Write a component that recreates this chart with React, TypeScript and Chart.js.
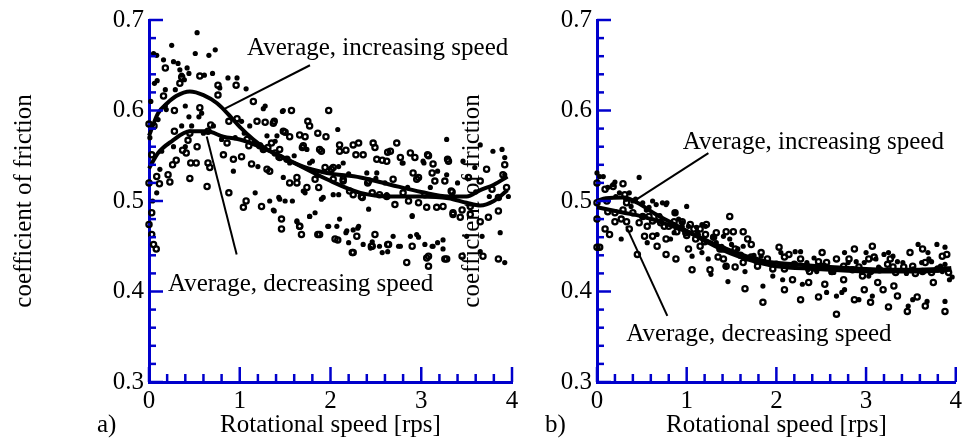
import React, { useEffect, useRef } from "react";
import { Chart, registerables } from "chart.js";

Chart.register(...registerables);

const FONT = "'Liberation Serif', 'Times New Roman', serif";
const AXIS_BLUE = "#0000cc";
const INK = "#000000";

// ---- text ----
const panelLabels = ["a)", "b)"];
const xTitle = "Rotational speed [rps]";
const yTitle = "coefficient of friction";
const incLabel = "Average, increasing speed";
const decLabel = "Average, decreasing speed";

// ---- axes ----
const xRange = [0, 4];
const yRange = [0.3, 0.7];
const xMajorStep = 1;
const xMinorStep = 0.2;
const yMajorStep = 0.1;
const yMinorStep = 0.02;

// ---- panel a) : measured points, increasing speed (dots) ----
const aIncreasing: [number, number][] = [
  [0.05,0.663],[0.06,0.63],[0.085,0.661],[0.09,0.633],[0.16,0.656],[0.18,0.623],[0.25,0.672],[0.27,0.654],
  [0.29,0.623],[0.32,0.652],[0.34,0.645],[0.36,0.639],[0.39,0.634],[0.42,0.647],[0.44,0.641],[0.51,0.663],
  [0.53,0.686],[0.55,0.593],[0.61,0.639],[0.66,0.661],[0.73,0.667],[0.7,0.641],[0.78,0.625],[0.87,0.636],
  [0.97,0.636],[1.07,0.624],[0.4,0.605],[0.44,0.593],[0.47,0.583],[0.085,0.509],[0.12,0.535],[0.18,0.605],
  [0.19,0.601],[0.27,0.56],[0.36,0.583],[0.4,0.56],[0.58,0.597],[0.71,0.583],[0.93,0.533],[1.02,0.588],
  [1.11,0.583],[1.17,0.509],[1.2,0.538],[1.28,0.605],[1.3,0.572],[1.33,0.5],[1.37,0.49],[1.41,0.572],
  [1.44,0.502],[1.48,0.6],[1.5,0.5],[1.55,0.542],[1.58,0.5],[1.63,0.478],[1.7,0.511],[1.77,0.483],
  [1.83,0.487],[1.77,0.542],[1.9,0.502],[1.98,0.472],[2.03,0.507],[2.07,0.472],[2.09,0.538],[2.09,0.507],
  [2.1,0.48],[2.18,0.467],[2.2,0.454],[2.25,0.468],[2.31,0.472],[2.36,0.452],[2.42,0.491],[2.44,0.448],
  [2.51,0.531],[2.54,0.45],[2.57,0.443],[2.62,0.507],[2.69,0.461],[2.75,0.45],[2.8,0.542],[2.88,0.461],
  [2.9,0.484],[2.97,0.46],[3.03,0.542],[3.04,0.452],[3.13,0.45],[3.24,0.457],[3.28,0.568],[3.24,0.447],
  [3.28,0.529],[3.65,0.562],[3.79,0.555],[3.89,0.557],[2.79,0.542],[3.02,0.544],[3.18,0.533],[3.46,0.544],
  [3.59,0.537],[3.92,0.548],[2.9,0.483],[2.63,0.444],[2.77,0.45],[2.95,0.463],[3.12,0.45],[3.18,0.454],
  [3.5,0.461],[3.67,0.461],[3.65,0.444],[3.92,0.432],[3.87,0.465],[3.92,0.529],[3.96,0.505],[0.02,0.61],
  [0.01,0.57],[0.04,0.5],[0.1,0.59],[0.14,0.555],[1.05,0.575],[1.16,0.565],[1.25,0.558],[1.42,0.548],
  [1.6,0.55],[1.85,0.528],[2.2,0.53],[2.5,0.525],[3.1,0.515],[3.4,0.52],[3.6,0.51],[3.75,0.505],
  [1.26,0.602],[1.47,0.599],[2.08,0.579],[1.39,0.566],[1.74,0.557],[1.8,0.544],[2.14,0.542],[2.4,0.531],
  [1.48,0.526],[1.72,0.509],[1.92,0.504],[1.43,0.504],[1.38,0.489],[1.77,0.483],[1.63,0.477],[1.97,0.472],
  [2.17,0.465],[2.3,0.47],[2.46,0.455],[0.6,0.575],[0.8,0.568],[0.95,0.57],[2.6,0.52],[2.85,0.515],
];

// ---- panel a) : measured points, decreasing speed (circles) ----
const aDecreasing: [number, number][] = [
  [0.0,0.474],[0.03,0.487],[0.03,0.463],[0.05,0.452],[0.08,0.447],[0.0,0.52],[0.03,0.551],[0.0,0.585],
  [0.055,0.583],[0.085,0.527],[0.115,0.519],[0.16,0.616],[0.18,0.647],[0.21,0.529],[0.23,0.521],[0.26,0.54],
  [0.28,0.6],[0.28,0.577],[0.3,0.545],[0.34,0.63],[0.36,0.637],[0.37,0.556],[0.41,0.553],[0.43,0.567],
  [0.45,0.575],[0.45,0.525],[0.46,0.542],[0.52,0.542],[0.53,0.56],[0.56,0.638],[0.56,0.603],[0.64,0.516],
  [0.65,0.577],[0.65,0.542],[0.67,0.537],[0.68,0.584],[0.76,0.617],[0.76,0.628],[0.82,0.551],[0.86,0.564],
  [0.88,0.509],[0.88,0.588],[0.93,0.546],[0.96,0.628],[0.97,0.591],[1.02,0.549],[1.04,0.493],[1.07,0.5],
  [1.08,0.568],[1.1,0.561],[1.13,0.541],[1.15,0.61],[1.19,0.588],[1.22,0.561],[1.24,0.494],[1.28,0.587],
  [1.33,0.533],[1.35,0.564],[1.38,0.588],[1.39,0.553],[1.46,0.48],[1.46,0.469],[1.48,0.577],[1.55,0.571],
  [1.57,0.6],[1.55,0.52],[1.63,0.526],[1.66,0.472],[1.68,0.463],[1.7,0.561],[1.72,0.571],[1.75,0.588],
  [1.77,0.583],[1.83,0.524],[1.87,0.515],[1.88,0.463],[1.9,0.555],[1.95,0.571],[1.98,0.6],[2.01,0.535],
  [2.03,0.524],[2.08,0.457],[2.1,0.555],[2.1,0.562],[2.14,0.522],[2.21,0.511],[2.24,0.443],[2.25,0.562],
  [2.28,0.551],[2.29,0.461],[2.31,0.564],[2.34,0.505],[2.36,0.551],[2.42,0.522],[2.45,0.45],[2.47,0.564],
  [2.49,0.463],[2.51,0.546],[2.54,0.507],[2.62,0.544],[2.64,0.452],[2.66,0.555],[2.69,0.524],[2.71,0.496],
  [2.73,0.564],[2.77,0.548],[2.8,0.509],[2.84,0.432],[2.86,0.5],[2.88,0.553],[2.9,0.45],[2.91,0.531],
  [2.93,0.548],[2.97,0.498],[2.97,0.526],[3.04,0.507],[3.06,0.493],[3.06,0.437],[3.08,0.55],[3.08,0.428],
  [3.13,0.541],[3.15,0.522],[3.17,0.493],[3.26,0.522],[3.26,0.436],[3.3,0.544],[3.33,0.511],[3.35,0.487],
  [3.07,0.551],[3.12,0.531],[3.29,0.546],[2.95,0.524],[3.52,0.526],[3.72,0.535],[3.92,0.54],[3.9,0.529],
  [3.94,0.515],[3.78,0.513],[3.65,0.522],[3.24,0.494],[3.34,0.51],[3.35,0.485],[3.45,0.49],[3.43,0.482],
  [3.54,0.485],[3.65,0.477],[3.74,0.482],[3.85,0.489],[3.85,0.504],[3.54,0.494],[3.28,0.436],[3.45,0.439],
  [3.68,0.439],[3.85,0.436],[3.08,0.439],
  [1.37,0.586],[1.5,0.576],[1.66,0.573],[1.86,0.575],[1.69,0.559],[1.88,0.557],[2.17,0.556],[2.49,0.559],
  [2.57,0.545],[2.63,0.554],[1.26,0.557],[1.31,0.559],[1.44,0.557],[1.3,0.535],[1.44,0.548],[1.52,0.546],
  [1.63,0.52],[1.74,0.515],[1.94,0.537],[2.03,0.537],[2.14,0.524],[2.25,0.507],[2.35,0.504],[2.41,0.52],
  [2.46,0.509],[2.62,0.505],[1.66,0.472],[1.86,0.463],[2.05,0.458],[2.25,0.443],[2.46,0.45],[2.63,0.452],
];

// ---- panel a) : averages ----
const aIncAverage: [number, number][] = [
  [0,0.572],[0.1,0.597],[0.2,0.608],[0.3,0.616],[0.45,0.621],[0.6,0.617],[0.75,0.608],[0.9,0.593],
  [1.0,0.582],[1.15,0.568],[1.3,0.557],[1.6,0.542],[1.96,0.524],[2.33,0.509],[2.66,0.505],[3.0,0.505],
  [3.3,0.503],[3.5,0.498],[3.65,0.495],[3.8,0.5],[3.95,0.512],
];
const aDecAverage: [number, number][] = [
  [0,0.536],[0.1,0.553],[0.25,0.566],[0.45,0.577],[0.64,0.577],[0.82,0.571],[1.0,0.568],[1.2,0.561],
  [1.4,0.552],[1.7,0.538],[1.96,0.531],[2.33,0.526],[2.66,0.518],[3.0,0.51],[3.3,0.505],[3.5,0.505],
  [3.65,0.512],[3.8,0.518],[3.95,0.527],
];

// ---- panel b) : measured points, increasing speed (dots) ----
const bIncreasing: [number, number][] = [
  [0,0.531],[0.07,0.527],[0.2,0.521],[0.47,0.526],[0.27,0.458],[0.36,0.509],[0.38,0.494],[0.51,0.498],
  [0.58,0.493],[0.66,0.496],[0.77,0.496],[0.78,0.498],[0.56,0.454],[0.67,0.463],[0.82,0.458],[0.86,0.465],
  [1.0,0.494],[0.95,0.472],[1.02,0.472],[1.11,0.471],[1.13,0.463],[1.17,0.474],[1.21,0.472],[1.22,0.455],
  [1.06,0.439],[1.27,0.419],[1.33,0.454],[1.39,0.45],[1.41,0.461],[1.43,0.428],[1.48,0.458],[1.5,0.452],
  [1.57,0.447],[1.63,0.45],[1.66,0.436],[1.77,0.436],[1.83,0.439],[1.85,0.406],[1.96,0.417],[1.46,0.411],
  [1.65,0.422],[1.24,0.436],[1.17,0.443],[0.03,0.527],[0.12,0.515],[0.18,0.518],[0.21,0.505],[0.25,0.509],
  [0.32,0.502],[0.4,0.5],[0.43,0.502],[0.62,0.5],[0.73,0.498],[0.87,0.487],[0.91,0.48],
  [2.21,0.444],[2.27,0.444],[2.05,0.443],[2.07,0.413],[2.29,0.408],[2.42,0.437],[2.56,0.399],[2.67,0.395],
  [2.73,0.399],[2.76,0.402],[2.89,0.433],[2.92,0.391],[3.0,0.443],[3.07,0.395],[3.14,0.427],[3.2,0.441],
  [3.25,0.443],[3.3,0.439],[3.35,0.433],[3.41,0.432],[3.52,0.391],[3.58,0.452],[3.69,0.443],[3.68,0.389],
  [3.73,0.433],[3.79,0.452],[3.88,0.449],[3.88,0.43],[3.93,0.413],[3.88,0.389],[3.47,0.384],[3.03,0.417],
  [2.76,0.443],[2.64,0.421],[2.45,0.422],[2.12,0.428],[3.53,0.425],[2.34,0.432],[2.52,0.428],[2.61,0.421],
  [2.8,0.432],[2.98,0.432],[3.11,0.436],[3.62,0.432],[3.7,0.436],[3.83,0.428],[3.96,0.416],
  [0.55,0.49],[0.7,0.484],[0.95,0.476],[1.3,0.46],[1.55,0.444],[1.75,0.44],[1.9,0.431],[2.35,0.424],
  [2.95,0.421],[3.45,0.42],[3.85,0.422],[1.12,0.466],
];

// ---- panel b) : measured points, decreasing speed (circles) ----
const bDecreasing: [number, number][] = [
  [0,0.52],[0,0.498],[0,0.48],[0,0.449],[0.03,0.449],[0.09,0.513],[0.18,0.516],[0.29,0.519],[0.11,0.5],
  [0.12,0.488],[0.2,0.487],[0.09,0.469],[0.14,0.463],[0.29,0.49],[0.31,0.507],[0.33,0.498],[0.2,0.477],
  [0.27,0.48],[0.36,0.469],[0.33,0.477],[0.4,0.487],[0.45,0.441],[0.51,0.483],[0.53,0.461],[0.47,0.476],
  [0.56,0.472],[0.58,0.483],[0.62,0.461],[0.67,0.45],[0.69,0.482],[0.71,0.476],[0.77,0.458],[0.77,0.441],
  [0.8,0.472],[0.86,0.477],[0.87,0.487],[0.88,0.436],[0.89,0.466],[0.95,0.477],[0.99,0.465],[1.02,0.447],
  [1.04,0.474],[1.08,0.469],[1.06,0.424],[1.1,0.458],[1.15,0.469],[1.15,0.45],[1.21,0.463],[1.22,0.474],
  [1.26,0.424],[1.3,0.46],[1.33,0.465],[1.35,0.438],[1.41,0.436],[1.44,0.466],[1.48,0.483],[1.52,0.466],
  [1.54,0.447],[1.54,0.427],[1.63,0.466],[1.65,0.403],[1.68,0.458],[1.72,0.452],[1.72,0.438],[1.79,0.428],
  [1.83,0.443],[1.85,0.388],[1.9,0.436],[1.63,0.432],[1.44,0.428],[1.37,0.447],
  [2.03,0.449],[1.96,0.425],[2.09,0.438],[2.14,0.441],[2.09,0.425],[2.18,0.413],[2.09,0.402],[2.27,0.436],
  [2.34,0.428],[2.37,0.422],[2.36,0.41],[2.27,0.391],[2.47,0.433],[2.51,0.443],[2.56,0.432],[2.62,0.422],
  [2.67,0.436],[2.54,0.408],[2.75,0.413],[2.47,0.394],[2.67,0.375],[2.81,0.436],[2.87,0.447],[2.92,0.427],
  [2.96,0.417],[2.87,0.391],[2.98,0.402],[3.03,0.436],[3.07,0.45],[3.09,0.438],[3.05,0.422],[3.13,0.41],
  [3.19,0.402],[3.05,0.388],[3.24,0.43],[3.3,0.427],[3.33,0.421],[3.27,0.436],[3.31,0.406],[3.35,0.395],
  [3.25,0.383],[3.49,0.443],[3.52,0.428],[3.57,0.394],[3.46,0.378],[3.63,0.447],[3.66,0.432],[3.73,0.421],
  [3.75,0.41],[3.66,0.384],[3.85,0.439],[3.9,0.441],[3.92,0.421],[3.88,0.378],[3.63,0.422],[3.42,0.427],
  [2.75,0.428],[2.53,0.428],[2.2,0.43],[2.42,0.426],[2.85,0.424],[3.15,0.424],[3.55,0.42],[3.8,0.425],
  [0.62,0.478],[0.75,0.472],[1.0,0.462],[1.2,0.455],[1.4,0.447],[1.6,0.44],[1.78,0.434],[2.0,0.43],
];

// ---- panel b) : averages ----
const bIncAverage: [number, number][] = [
  [0,0.5],[0.1,0.503],[0.3,0.504],[0.45,0.498],[0.66,0.485],[0.85,0.475],[1.02,0.466],[1.2,0.456],
  [1.4,0.446],[1.57,0.439],[1.8,0.432],[2.0,0.428],[2.4,0.425],[2.8,0.423],[3.2,0.422],[3.6,0.422],[3.95,0.424],
];
const bDecAverage: [number, number][] = [
  [0,0.493],[0.15,0.49],[0.3,0.487],[0.5,0.483],[0.7,0.477],[0.9,0.47],[1.1,0.462],[1.3,0.453],
  [1.5,0.445],[1.7,0.438],[1.9,0.433],[2.2,0.43],[2.6,0.427],[3.0,0.425],[3.4,0.424],[3.8,0.425],[3.95,0.426],
];

type Note = { text: string; at: [number, number]; from: [number, number]; to: [number, number] };

const aNotes: Note[] = [
  { text: incLabel, at: [1.08, 0.669], from: [1.774, 0.650], to: [0.815, 0.601] },
  { text: decLabel, at: [0.209, 0.408], from: [0.636, 0.5714], to: [0.966, 0.441] },
];
const bNotes: Note[] = [
  { text: incLabel, at: [0.956, 0.5645], from: [1.242, 0.553], to: [0.381, 0.498] },
  { text: decLabel, at: [0.326, 0.353], from: [0.326, 0.472], to: [0.784, 0.373] },
];

type PanelCfg = {
  label: string;
  inc: [number, number][];
  dec: [number, number][];
  incAvg: [number, number][];
  decAvg: [number, number][];
  notes: Note[];
  padLeft: number;
  padRight: number;
};

const panels: PanelCfg[] = [
  { label: panelLabels[0], inc: aIncreasing, dec: aDecreasing, incAvg: aIncAverage, decAvg: aDecAverage, notes: aNotes, padLeft: 3, padRight: 454 },
  { label: panelLabels[1], inc: bIncreasing, dec: bDecreasing, incAvg: bIncAverage, decAvg: bDecAverage, notes: bNotes, padLeft: 451, padRight: 5 },
];

const toPts = (arr: [number, number][]) => arr.map(([x, y]) => ({ x, y }));

function decorPlugin(cfg: PanelCfg) {
  return {
    id: "decor",
    afterDraw(chart: any) {
      const { ctx, chartArea } = chart;
      const xs = chart.scales.x;
      const ys = chart.scales.y;
      ctx.save();
      // inward tick marks
      ctx.strokeStyle = AXIS_BLUE;
      ctx.lineWidth = 2.5;
      ctx.lineCap = "butt";
      const nY = Math.round((yRange[1] - yRange[0]) / yMinorStep);
      const perY = Math.round(yMajorStep / yMinorStep);
      for (let i = 0; i <= nY; i++) {
        const py = ys.getPixelForValue(yRange[0] + i * yMinorStep);
        const len = i % perY === 0 ? 14 : 7;
        ctx.beginPath();
        ctx.moveTo(chartArea.left, py);
        ctx.lineTo(chartArea.left + len, py);
        ctx.stroke();
      }
      const nX = Math.round((xRange[1] - xRange[0]) / xMinorStep);
      const perX = Math.round(xMajorStep / xMinorStep);
      for (let i = 0; i <= nX; i++) {
        const px = xs.getPixelForValue(xRange[0] + i * xMinorStep);
        const len = i % perX === 0 ? 15 : 8;
        ctx.beginPath();
        ctx.moveTo(px, chartArea.bottom);
        ctx.lineTo(px, chartArea.bottom - len);
        ctx.stroke();
      }
      // annotations
      ctx.strokeStyle = INK;
      ctx.fillStyle = INK;
      ctx.lineWidth = 2;
      ctx.font = `25px ${FONT}`;
      ctx.textAlign = "left";
      ctx.textBaseline = "middle";
      for (const n of cfg.notes) {
        ctx.beginPath();
        ctx.moveTo(xs.getPixelForValue(n.from[0]), ys.getPixelForValue(n.from[1]));
        ctx.lineTo(xs.getPixelForValue(n.to[0]), ys.getPixelForValue(n.to[1]));
        ctx.stroke();
        ctx.fillText(n.text, xs.getPixelForValue(n.at[0]), ys.getPixelForValue(n.at[1]));
      }
      // panel letter
      ctx.fillText(cfg.label, chartArea.left - 52, 425);
      ctx.restore();
    },
  };
}

function Panel({ cfg }: { cfg: PanelCfg }) {
  const ref = useRef<HTMLCanvasElement | null>(null);
  useEffect(() => {
    if (!ref.current) return;
    const chart = new Chart(ref.current, {
      type: "scatter",
      data: {
        datasets: [
          {
            label: "inc avg",
            data: toPts(cfg.incAvg),
            showLine: true,
            borderColor: INK,
            borderWidth: 4,
            pointRadius: 0,
            cubicInterpolationMode: "monotone",
          } as any,
          {
            label: "dec avg",
            data: toPts(cfg.decAvg),
            showLine: true,
            borderColor: INK,
            borderWidth: 4,
            pointRadius: 0,
            cubicInterpolationMode: "monotone",
          } as any,
          {
            label: "increasing",
            data: toPts(cfg.inc),
            pointStyle: "circle",
            pointRadius: 2.6,
            pointBorderWidth: 0,
            pointBackgroundColor: INK,
            pointBorderColor: INK,
          },
          {
            label: "decreasing",
            data: toPts(cfg.dec),
            pointStyle: "circle",
            pointRadius: 2.6,
            pointBorderWidth: 2.3,
            pointBackgroundColor: "rgba(0,0,0,0)",
            pointBorderColor: INK,
          },
        ],
      },
      options: {
        responsive: false,
        animation: false,
        events: [],
        clip: false as any,
        layout: { padding: { left: cfg.padLeft, right: cfg.padRight, top: 20, bottom: 0 } },
        plugins: { legend: { display: false }, tooltip: { enabled: false } },
        scales: {
          x: {
            type: "linear",
            min: xRange[0],
            max: xRange[1],
            afterFit: (s: any) => { s.height = 62; },
            ticks: { stepSize: xMajorStep, color: INK, font: { family: FONT, size: 25 }, padding: 4, maxRotation: 0 },
            grid: { display: false, drawTicks: false },
            border: { display: true, color: AXIS_BLUE, width: 3 },
            title: { display: true, text: xTitle, color: INK, font: { family: FONT, size: 25 }, padding: { top: 0, bottom: 4 } },
          },
          y: {
            type: "linear",
            min: yRange[0],
            max: yRange[1],
            afterFit: (s: any) => { s.width = 146; },
            ticks: {
              stepSize: yMajorStep,
              color: INK,
              font: { family: FONT, size: 25 },
              padding: 5,
              callback: (v: any) => Number(v).toFixed(1),
            },
            grid: { display: false, drawTicks: false },
            border: { display: true, color: AXIS_BLUE, width: 3 },
            title: { display: true, text: yTitle, color: INK, font: { family: FONT, size: 25 }, padding: { top: 6, bottom: 0 } },
          },
        },
      },
      plugins: [decorPlugin(cfg)],
    } as any);
    return () => chart.destroy();
  }, [cfg]);
  return (
    <canvas
      ref={ref}
      width={966}
      height={444}
      style={{ position: "absolute", left: 0, top: 0, width: 966, height: 444 }}
    />
  );
}

export default function App() {
  return (
    <div style={{ position: "fixed", left: 0, top: 0, width: 966, height: 444, background: "#ffffff", overflow: "hidden" }}>
      {panels.map((p) => (
        <Panel key={p.label} cfg={p} />
      ))}
    </div>
  );
}
